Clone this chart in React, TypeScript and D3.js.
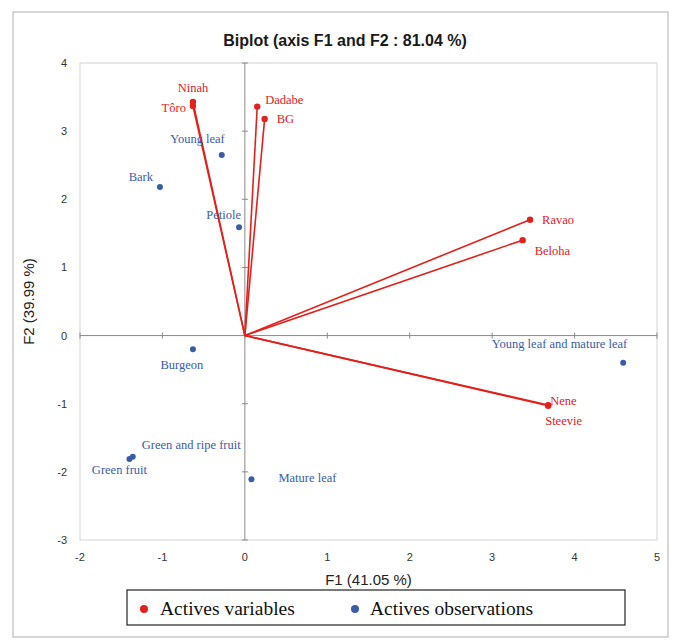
import * as d3 from "d3";

// variables (arrows from origin)
const varNames = ["Ninah", "Tôro", "Dadabe", "BG", "Ravao", "Beloha", "Nene", "Steevie"];
const varF1 = [-0.63, -0.63, 0.15, 0.24, 3.46, 3.37, 3.68, 3.68];
const varF2 = [3.43, 3.37, 3.36, 3.18, 1.70, 1.40, -1.02, -1.03];

// observations
const obsNames = [
  "Young leaf",
  "Bark",
  "Petiole",
  "Burgeon",
  "Young leaf and mature leaf",
  "Green and ripe fruit",
  "Green fruit",
  "Mature leaf",
];
const obsF1 = [-0.28, -1.03, -0.07, -0.63, 4.59, -1.36, -1.40, 0.08];
const obsF2 = [2.65, 2.18, 1.59, -0.2, -0.4, -1.78, -1.81, -2.11];

const xTicks = [-2, -1, 0, 1, 2, 3, 4, 5];
const yTicks = [-3, -2, -1, 0, 1, 2, 3, 4];

// label placement: [anchor, dx, dy]
const labelPos: Record<string, [string, number, number]> = {
  Ninah: ["middle", 0, -10],
  "Tôro": ["end", -7, 6],
  Dadabe: ["start", 8, -3],
  BG: ["start", 12, 4],
  Ravao: ["start", 12, 4],
  Beloha: ["start", 12, 15],
  Nene: ["start", 2, 0],
  Steevie: ["start", -3, 19],
  "Young leaf": ["end", 3, -12],
  Bark: ["end", -7, -6],
  Petiole: ["end", 2, -8],
  Burgeon: ["middle", -11, 20],
  "Young leaf and mature leaf": ["end", 4, -15],
  "Green and ripe fruit": ["start", 9, -8],
  "Green fruit": ["middle", -10, 15],
  "Mature leaf": ["start", 27, 3],
};

const W = 680;
const H = 641;
const left = 80;
const right = 657;
const top = 63;
const bottom = 540;

const RED = "#e3211c";
const BLUE = "#3a5ca8";
const sans = "'Liberation Sans', Arial, sans-serif";
const serif = "'Liberation Serif', 'Times New Roman', serif";

export default function App() {
  const x = d3.scaleLinear().domain([-2, 5]).range([left, right]);
  const y = d3.scaleLinear().domain([-3, 4]).range([bottom, top]);
  const x0 = x(0);
  const y0 = y(0);

  return (
    <svg
      width={W}
      height={H}
      style={{ position: "absolute", left: 0, top: 0, background: "#fff" }}
    >
      <rect x={13} y={12} width={655} height={625} fill="#fff" stroke="#bdbdbd" strokeWidth={1.2} />
      <text x={345} y={46} textAnchor="middle" fontFamily={sans} fontWeight="bold" fontSize={16} fill="#1a1a1a">
        Biplot (axis F1 and F2 : 81.04 %)
      </text>

      {/* plot frame */}
      <rect x={left} y={top} width={right - left} height={bottom - top} fill="none" stroke="#d4d4d4" strokeWidth={1} />

      {/* zero axes */}
      <line x1={left} x2={right} y1={y0} y2={y0} stroke="#8a8a8a" strokeWidth={1} />
      <line x1={x0} x2={x0} y1={top} y2={bottom} stroke="#8a8a8a" strokeWidth={1} />
      {yTicks.map((t) => (
        <line key={"yt" + t} x1={x0 - 3} x2={x0 + 3} y1={y(t)} y2={y(t)} stroke="#8a8a8a" />
      ))}
      {xTicks.map((t) => (
        <line key={"xt" + t} x1={x(t)} x2={x(t)} y1={y0 - 3} y2={y0 + 3} stroke="#8a8a8a" />
      ))}

      {/* tick labels */}
      {yTicks.map((t) => (
        <text key={"yl" + t} x={left - 13} y={y(t) + 4} textAnchor="end" fontFamily={sans} fontSize={11} fill="#333">
          {t}
        </text>
      ))}
      {xTicks.map((t) => (
        <text key={"xl" + t} x={x(t)} y={bottom + 21} textAnchor="middle" fontFamily={sans} fontSize={11} fill="#333">
          {t}
        </text>
      ))}

      <text x={(left + right) / 2} y={585} textAnchor="middle" fontFamily={sans} fontSize={15} fill="#222">
        F1 (41.05 %)
      </text>
      <text
        transform={`translate(34,${(top + bottom) / 2}) rotate(-90)`}
        textAnchor="middle"
        fontFamily={sans}
        fontSize={15}
        fill="#222"
      >
        F2 (39.99 %)
      </text>

      {/* variable arrows */}
      {varNames.map((n, i) => (
        <g key={n}>
          <line x1={x0} y1={y0} x2={x(varF1[i])} y2={y(varF2[i])} stroke={RED} strokeWidth={1.6} />
          <circle cx={x(varF1[i])} cy={y(varF2[i])} r={3.2} fill={RED} />
          <text
            x={x(varF1[i]) + labelPos[n][1]}
            y={y(varF2[i]) + labelPos[n][2]}
            textAnchor={labelPos[n][0] as any}
            fontFamily={serif}
            fontSize={12.5}
            fill={RED}
          >
            {n}
          </text>
        </g>
      ))}

      {/* observations */}
      {obsNames.map((n, i) => (
        <g key={n}>
          <circle cx={x(obsF1[i])} cy={y(obsF2[i])} r={3} fill={BLUE} />
          <text
            x={x(obsF1[i]) + labelPos[n][1]}
            y={y(obsF2[i]) + labelPos[n][2]}
            textAnchor={labelPos[n][0] as any}
            fontFamily={serif}
            fontSize={12.5}
            fill={BLUE}
          >
            {n}
          </text>
        </g>
      ))}

      {/* legend */}
      <rect x={127} y={590} width={498} height={35} fill="#fff" stroke="#222" strokeWidth={1.2} />
      <circle cx={144} cy={609} r={4} fill={RED} />
      <text x={160} y={615} fontFamily={serif} fontSize={19.5} fill="#111">
        Actives variables
      </text>
      <circle cx={355} cy={609} r={4} fill={BLUE} />
      <text x={370} y={615} fontFamily={serif} fontSize={19.5} fill="#111">
        Actives observations
      </text>
    </svg>
  );
}
